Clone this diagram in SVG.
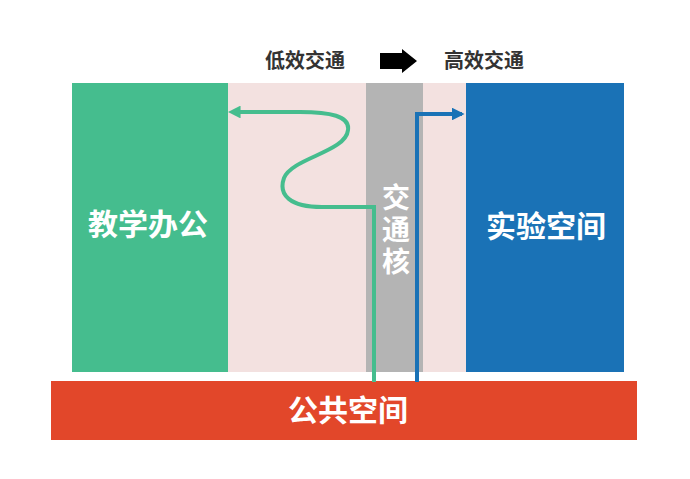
<svg xmlns="http://www.w3.org/2000/svg" width="690" height="479" viewBox="0 0 690 479">
<style>
.t{font-family:"Noto Sans CJK SC","Noto Sans",sans-serif;font-weight:bold;text-anchor:middle;}
.w{fill:#ffffff;}
.h{fill:#333333;font-size:20px;}
.ln{fill:none;stroke-width:4;}
</style>
<defs>
<marker id="ag" viewBox="0 0 10 10" refX="2" refY="5" markerWidth="3.2" markerHeight="3.2" orient="auto-start-reverse" markerUnits="strokeWidth"><path d="M0,0 L10,5 L0,10 z" fill="#45bd8e"/></marker>
<marker id="ab" viewBox="0 0 10 10" refX="8" refY="5" markerWidth="3.2" markerHeight="3.2" orient="auto" markerUnits="strokeWidth"><path d="M0,0 L10,5 L0,10 z" fill="#1a72b6"/></marker>
</defs>
<rect width="690" height="479" fill="#ffffff"/>
<g id="legend">
<text class="t h" x="305" y="68">低效交通</text>
<path d="M380,53 H402 V49 L417,61 L402,73 V69 H380 z" fill="#000000"/>
<text class="t h" x="484" y="68">高效交通</text>
</g>
<g id="band"><rect x="228" y="83" width="238" height="289" fill="#f3e1e0"/></g>
<g id="core">
<rect x="366" y="83" width="57" height="289" fill="#b4b4b4"/>
<text class="t w" x="396" y="231" font-size="28" writing-mode="vertical-rl" letter-spacing="4">交通核</text>
</g>
<g id="teaching">
<rect x="72" y="83" width="156" height="289" fill="#45bd8e"/>
<text class="t w" x="148" y="235" font-size="30">教学办公</text>
</g>
<g id="lab">
<rect x="466" y="83" width="158" height="289" fill="#1a72b6"/>
<text class="t w" x="546" y="237" font-size="30">实验空间</text>
</g>
<g id="public">
<rect x="51" y="381" width="586" height="59" fill="#e2472a"/>
<text class="t w" x="348" y="421" font-size="30">公共空间</text>
</g>
<g id="connectors">
<path class="ln" stroke="#45bd8e" marker-end="url(#ag)" d="M374,382 V207 H322 C290,207 278,195 284,178 C292,158 346,152 348,130 C350,116 330,112 300,112 H238"/>
<path class="ln" stroke="#1a72b6" marker-end="url(#ab)" d="M417,382 V114 H462"/>
</g>
</svg>
